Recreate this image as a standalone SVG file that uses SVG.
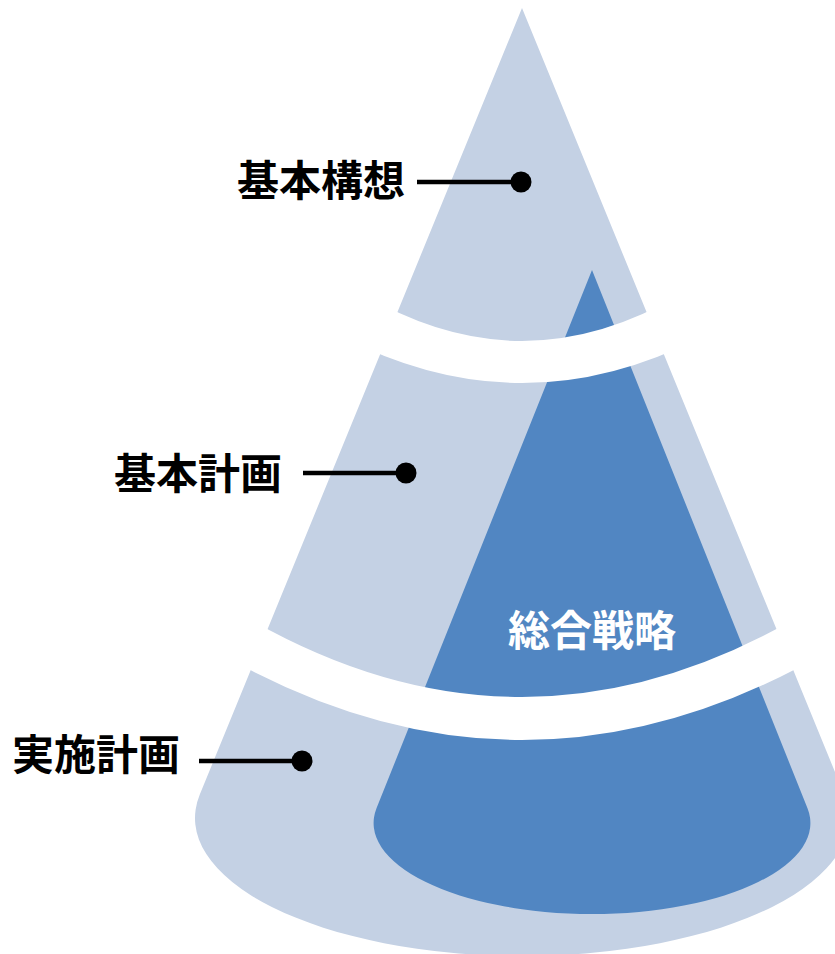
<svg xmlns="http://www.w3.org/2000/svg" width="835" height="954" viewBox="0 0 835 954">
  <style>
    .light { fill: #c4d1e4; }
    .dark { fill: #5186c2; }
    .band { fill: #ffffff; }
    .label { font-family: "Noto Sans CJK JP", "Noto Sans CJK SC", sans-serif; font-size: 42px; font-weight: 700; fill: #000000; text-anchor: end; }
    .inner { font-family: "Noto Sans CJK JP", "Noto Sans CJK SC", sans-serif; font-size: 42px; font-weight: 700; fill: #ffffff; text-anchor: middle; }
    .lead { stroke: #000000; stroke-width: 4.5; fill: none; }
    .dot { fill: #000000; }
  </style>
  <rect x="0" y="0" width="835" height="954" fill="#ffffff"/>
  <g id="cone">
    <path class="light" d="M522,8 L199.8,794.5 A327,138 0 1 0 844.2,794.5 Z"/>
    <path class="dark" d="M592,270 L376.6,808 A218.4,91 0 1 0 807.4,808 Z"/>
    <path class="band" d="M362,293.6 Q522,388.4 682,293.6 L702,336.7 Q522,429.3 342,336.7 Z"/>
    <path class="band" d="M222,602.6 Q522,791.4 822,602.6 L842,643 Q522,837 202,643 Z"/>
  </g>
  <g id="node-kihon-koso">
    <text class="label" x="405" y="195.5">基本構想</text>
  </g>
  <g id="node-kihon-keikaku">
    <text class="label" x="282" y="489">基本計画</text>
  </g>
  <g id="node-jisshi-keikaku">
    <text class="label" x="180" y="770">実施計画</text>
  </g>
  <g id="node-sogo-senryaku">
    <text class="inner" x="592" y="646">総合戦略</text>
  </g>
  <g id="connectors">
    <line class="lead" x1="417" y1="182" x2="521" y2="182"/>
    <circle class="dot" cx="521" cy="182" r="10.5"/>
    <line class="lead" x1="303" y1="473" x2="406" y2="473"/>
    <circle class="dot" cx="406" cy="473" r="10.5"/>
    <line class="lead" x1="199" y1="761" x2="302" y2="761"/>
    <circle class="dot" cx="302" cy="761" r="10.5"/>
  </g>
</svg>
